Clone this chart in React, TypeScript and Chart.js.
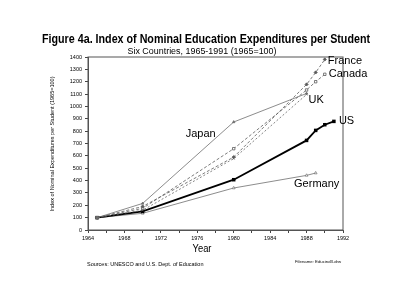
import React, { useEffect, useRef } from "react";
import { Chart, registerables } from "chart.js";

Chart.register(...registerables);

// Index of nominal education expenditures per student (1965 = 100)
const japanYears = [1965, 1970, 1980, 1988];
const japanIndex = [100, 215, 874, 1105];

const franceYears = [1965, 1970, 1980, 1988, 1989, 1990];
const franceIndex = [100, 190, 590, 1178, 1275, 1380];

const canadaYears = [1965, 1970, 1980, 1988, 1989, 1990];
const canadaIndex = [100, 175, 658, 1133, 1200, 1260];

const ukYears = [1965, 1970, 1980, 1988];
const ukIndex = [100, 160, 578, 1097];

const usYears = [1965, 1970, 1980, 1988, 1989, 1990, 1991];
const usIndex = [100, 150, 407, 725, 806, 852, 879];

const germanyYears = [1965, 1970, 1980, 1988, 1989];
const germanyIndex = [100, 135, 340, 442, 461];

const yearMin = 1964;
const yearMax = 1992;
const indexMin = 0;
const indexMax = 1400;

const FONT = "Arial, 'Liberation Sans', Helvetica, sans-serif";

const pairs = (xs: number[], ys: number[]) => xs.map((x, i) => ({ x, y: ys[i] }));

type SeriesLabel = {
  text: string;
  dataset: number;
  point: "last" | number;
  dx: number;
  dy: number;
  align: CanvasTextAlign;
};

// Country names placed next to a point of their own line
const seriesLabels: SeriesLabel[] = [
  { text: "France", dataset: 1, point: "last", dx: 3, dy: 1, align: "left" },
  { text: "Canada", dataset: 2, point: "last", dx: 4, dy: 0, align: "left" },
  { text: "UK", dataset: 3, point: "last", dx: 2, dy: 6, align: "left" },
  { text: "US", dataset: 4, point: "last", dx: 5, dy: 0, align: "left" },
  { text: "Germany", dataset: 5, point: "last", dx: 1, dy: 11, align: "center" },
  { text: "Japan", dataset: 0, point: 2, dx: -18, dy: 12, align: "right" },
];

function fitText(
  ctx: CanvasRenderingContext2D,
  text: string,
  cx: number,
  y: number,
  width: number
) {
  const w = ctx.measureText(text).width;
  const s = width / w;
  ctx.save();
  ctx.translate(cx, y);
  ctx.scale(s, 1);
  ctx.textAlign = "center";
  ctx.fillText(text, 0, 0);
  ctx.restore();
}

const decorations = {
  id: "decorations",
  beforeDraw(chart: any) {
    const ctx = chart.ctx as CanvasRenderingContext2D;
    ctx.save();
    ctx.fillStyle = "#ffffff";
    ctx.fillRect(0, 0, chart.width, chart.height);
    ctx.restore();
  },
  afterDraw(chart: any) {
    const ctx = chart.ctx as CanvasRenderingContext2D;
    const area = chart.chartArea;
    ctx.save();

    // frame around the plot
    ctx.strokeStyle = "#555";
    ctx.lineWidth = 1;
    ctx.strokeRect(area.left, area.top, area.right - area.left, area.bottom - area.top);

    ctx.fillStyle = "#000";
    ctx.textBaseline = "alphabetic";

    ctx.font = `bold 12.5px ${FONT}`;
    fitText(ctx, "Figure 4a. Index of Nominal Education Expenditures per Student", 206, 43, 328);

    ctx.font = `8.5px ${FONT}`;
    fitText(ctx, "Six Countries, 1965-1991 (1965=100)", 202, 53.5, 149);

    ctx.font = `10px ${FONT}`;
    fitText(ctx, "Year", 202, 251.5, 19);

    ctx.font = `5.5px ${FONT}`;
    ctx.textAlign = "left";
    ctx.fillText("Sources: UNESCO and U.S. Dept. of Education", 87, 265.5);

    ctx.font = `4.3px ${FONT}`;
    ctx.fillText("Filename: Educind3.drw", 295, 262.5);

    // rotated axis title
    ctx.save();
    ctx.translate(54, (area.top + area.bottom) / 2 + 0.5);
    ctx.rotate(-Math.PI / 2);
    ctx.font = `5px ${FONT}`;
    fitText(ctx, "Index of Nominal Expenditures per Student (1965=100)", 0, 0, 135);
    ctx.restore();

    // country names
    ctx.font = `11px ${FONT}`;
    ctx.textBaseline = "middle";
    for (const lab of seriesLabels) {
      const meta = chart.getDatasetMeta(lab.dataset);
      const pts = meta.data;
      const p = lab.point === "last" ? pts[pts.length - 1] : pts[lab.point];
      ctx.textAlign = lab.align;
      ctx.fillText(lab.text, p.x + lab.dx, p.y + lab.dy);
    }
    ctx.restore();
  },
};

export default function App() {
  const canvasRef = useRef<HTMLCanvasElement | null>(null);

  useEffect(() => {
    const canvas = canvasRef.current;
    if (!canvas) return;

    const thin = "#6e6e6e";
    const chart = new Chart(canvas, {
      type: "line",
      data: {
        datasets: [
          {
            label: "Japan",
            data: pairs(japanYears, japanIndex),
            borderColor: thin,
            backgroundColor: thin,
            borderWidth: 0.8,
            pointStyle: "triangle",
            pointRadius: 1.4,
          },
          {
            label: "France",
            data: pairs(franceYears, franceIndex),
            borderColor: "#5a5a5a",
            backgroundColor: "#5a5a5a",
            borderWidth: 0.8,
            borderDash: [3, 2],
            pointStyle: "rectRot",
            pointRadius: 1.6,
          },
          {
            label: "Canada",
            data: pairs(canadaYears, canadaIndex),
            borderColor: "#5a5a5a",
            backgroundColor: "#ffffff",
            borderWidth: 0.8,
            borderDash: [3, 2],
            pointStyle: "rect",
            pointRadius: 1.7,
            pointBorderWidth: 0.8,
          },
          {
            label: "UK",
            data: pairs(ukYears, ukIndex),
            borderColor: "#666",
            backgroundColor: "#666",
            borderWidth: 0.8,
            borderDash: [2, 2],
            pointStyle: "crossRot",
            pointRadius: 1.5,
            pointBorderWidth: 0.7,
          },
          {
            label: "US",
            data: pairs(usYears, usIndex),
            borderColor: "#000",
            backgroundColor: "#000",
            borderWidth: 1.8,
            pointStyle: "rect",
            pointRadius: 1.2,
          },
          {
            label: "Germany",
            data: pairs(germanyYears, germanyIndex),
            borderColor: thin,
            backgroundColor: "#ffffff",
            borderWidth: 0.8,
            pointStyle: "triangle",
            pointRadius: 1.6,
            pointBorderWidth: 0.7,
          },
        ],
      },
      options: {
        responsive: false,
        animation: false,
        events: [],
        layout: { padding: { left: 0, top: 57, right: 57, bottom: 0 } },
        plugins: {
          legend: { display: false },
          title: { display: false },
          tooltip: { enabled: false },
        },
        elements: { line: { tension: 0 } },
        scales: {
          x: {
            type: "linear",
            min: yearMin,
            max: yearMax,
            afterFit: (scale: any) => {
              scale.height = 77;
            },
            ticks: {
              stepSize: 2,
              autoSkip: false,
              maxRotation: 0,
              padding: 2,
              color: "#000",
              font: { family: FONT, size: 5.5 },
              callback: (v: any) => (Number(v) % 4 === 0 ? String(v) : ""),
            },
            grid: {
              drawOnChartArea: false,
              drawTicks: true,
              tickLength: 3,
              color: "#444",
            },
            border: { color: "#555" },
          },
          y: {
            type: "linear",
            min: indexMin,
            max: indexMax,
            afterFit: (scale: any) => {
              scale.width = 88;
            },
            ticks: {
              stepSize: 100,
              autoSkip: false,
              padding: 3,
              color: "#000",
              font: { family: FONT, size: 5.5 },
              callback: (v: any) => String(v),
            },
            grid: {
              drawOnChartArea: false,
              drawTicks: true,
              tickLength: 3,
              color: "#444",
            },
            border: { color: "#555" },
          },
        },
      },
      plugins: [decorations],
    });

    return () => chart.destroy();
  }, []);

  return (
    <div style={{ position: "fixed", left: 0, top: 0, width: 400, height: 307, background: "#fff" }}>
      <canvas ref={canvasRef} width={400} height={307} style={{ display: "block" }} />
    </div>
  );
}
